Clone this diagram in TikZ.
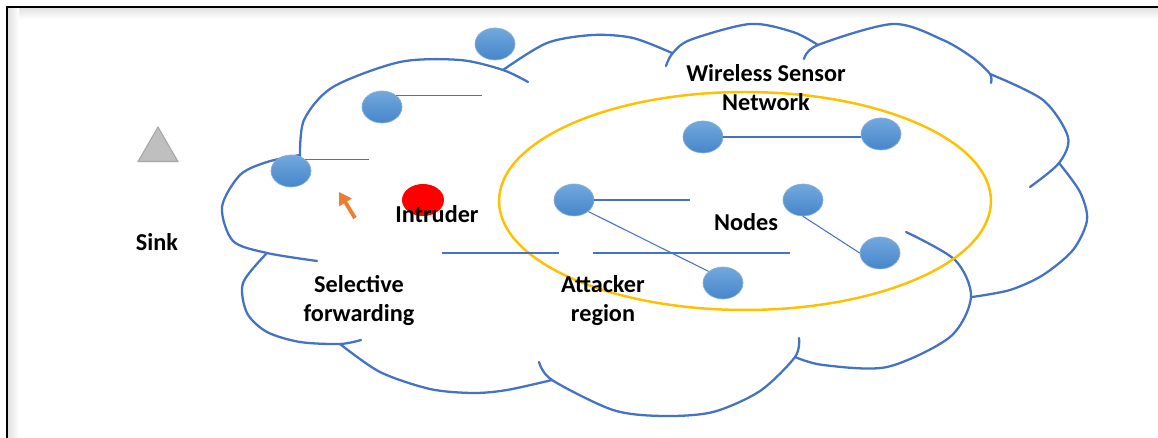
\documentclass[tikz,border=0pt]{standalone}
\usepackage{fontspec}
\setmainfont{Carlito}
\usetikzlibrary{positioning, arrows.meta, shapes.geometric}

\definecolor{cloudblue}{RGB}{68,114,196}
\definecolor{nodetop}{RGB}{114,168,222}
\definecolor{nodebottom}{RGB}{70,134,202}
\definecolor{nodeedge}{RGB}{135,175,220}
\definecolor{zoneyellow}{RGB}{255,192,0}
\definecolor{pointerorange}{RGB}{237,125,49}

\begin{document}
\begin{tikzpicture}[
    x=0.02cm, y=-0.02cm,
    % Styles
    cloudline/.style={draw=cloudblue, line width=1.3pt, line cap=round},
    sensor/.style={ellipse, top color=nodetop, bottom color=nodebottom, draw=nodeedge, line width=0.4pt, inner sep=0pt, minimum width=0.8cm, minimum height=0.64cm},
    intruder/.style={ellipse, fill=red, inner sep=0pt, minimum width=0.84cm, minimum height=0.64cm},
    link/.style={draw=cloudblue, line width=0.6pt},
    busline/.style={draw=cloudblue, line width=1.2pt},
    zone/.style={ellipse, draw=zoneyellow, line width=1.4pt, inner sep=0pt, minimum width=9.84cm, minimum height=4.36cm},
    sinkmark/.style={regular polygon, regular polygon sides=3, fill=gray!50, draw=gray!70, line width=0.6pt, inner sep=0pt, minimum size=0.92cm},
    pointer/.style={-{Triangle[length=7pt, width=8pt]}, draw=pointerorange, line width=2.2pt},
    textlabel/.style={font=\fontsize{13.8}{16.5}\selectfont\bfseries, align=center, inner sep=0pt},
]
\useasboundingbox (0,0) rectangle (1158,438);

% Frame with soft shadow
\shade[top color=gray!25, bottom color=white] (7,7) rectangle (1158,19);
\shade[left color=gray!25, right color=white] (7,7) rectangle (19,438);
\draw[line width=1.2pt] (7,438) -- (7,7) -- (1158,7);

% Sink
\node[sinkmark] (sinkicon) at (158,150) {};
\node[textlabel] (sink) at (157,242) {Sink};

% Cloud outline, lobe by lobe
\draw[cloudline] plot[smooth] coordinates {(300,158) (304,120) (333,87) (400,62) (460,60) (503,70) (528,82)};
\draw[cloudline] plot[smooth] coordinates {(503,70) (547,43) (593,35) (633,38) (672,53)};
\draw[cloudline] plot[smooth] coordinates {(666,66) (672,54) (690,40) (750,24) (793,32) (818,45)};
\draw[cloudline] plot[smooth] coordinates {(804,59) (818,45) (893,24) (943,40) (973,58) (990,74) (991,83)};
\draw[cloudline] plot[smooth] coordinates {(990,74) (1043,100) (1068,137) (1059,163) (1030,187)};
\draw[cloudline] plot[smooth] coordinates {(1059,163) (1080,192) (1087,220) (1073,250) (1043,275) (1010,290) (972,297)};
\draw[cloudline] plot[smooth] coordinates {(906,232) (955,260) (971,297) (950,337) (887,367) (823,365) (795,357)};
\draw[cloudline] plot[smooth] coordinates {(799,338) (795,357) (760,391) (713,412) (663,416) (613,410) (552,380) (539,362)};
\draw[cloudline] plot[smooth] coordinates {(552,380) (507,390) (473,393) (430,389) (380,372) (340,344)};
\draw[cloudline] plot[smooth] coordinates {(267,253) (243,283) (247,313) (267,332) (300,342) (340,344) (361,340)};
\draw[cloudline] plot[smooth] coordinates {(317,261) (267,253) (233,241) (222,207) (240,175) (267,162) (300,155)};

% Attacker region
\node[zone] (attackzone) at (745,201) {};

% Sensor nodes
\node[sensor] (n1) at (495,44) {};
\node[sensor] (n2) at (382,107) {};
\node[sensor] (n3) at (291,171) {};
\node[sensor] (n4) at (703,137) {};
\node[sensor] (n5) at (881,134) {};
\node[sensor] (n6) at (574,200) {};
\node[sensor] (n7) at (803,200) {};
\node[sensor] (n8) at (723,283) {};
\node[sensor] (n9) at (880,253) {};

% Intruder
\node[intruder] (intr) at (423,200) {};

% Links
\coordinate (n2end) at (482,96);
\coordinate (n3end) at (369,160);
\coordinate (n6end) at (690,200);
\draw[link] (n2.north east) -- (n2.north east -| n2end);
\draw[link] (n3.north east) -- (n3.north east -| n3end);
\draw[link] (n6.east) -- (n6end);
\draw[link] (n4.east) -- (n4.east -| n5.west);
\draw[link] (n6.south east) -- (n8.north west);
\draw[link] (n7.south) -- (n9.west);

% Forwarding paths
\coordinate (busAw) at (442,253);
\coordinate (busAe) at (559,253);
\coordinate (busBw) at (593,253);
\coordinate (busBe) at (790,253);
\draw[busline] (busAw) -- (busAe);
\draw[busline] (busBw) -- (busBe);

% Pointer
\coordinate (ptrtail) at (355,218);
\coordinate (ptrtip) at (339,192);
\draw[pointer] (ptrtail) -- (ptrtip);

% Labels
\node[textlabel] (wsn) at (766,88) {Wireless Sensor\\Network};
\node[textlabel] (intrtext) at (437,214) {Intruder};
\node[textlabel] (nodes) at (746,222) {Nodes};
\node[textlabel] (selfwd) at (359,301) {Selective\\forwarding};
\node[textlabel] (attreg) at (603,301) {Attacker\\region};

\end{tikzpicture}
\end{document}
